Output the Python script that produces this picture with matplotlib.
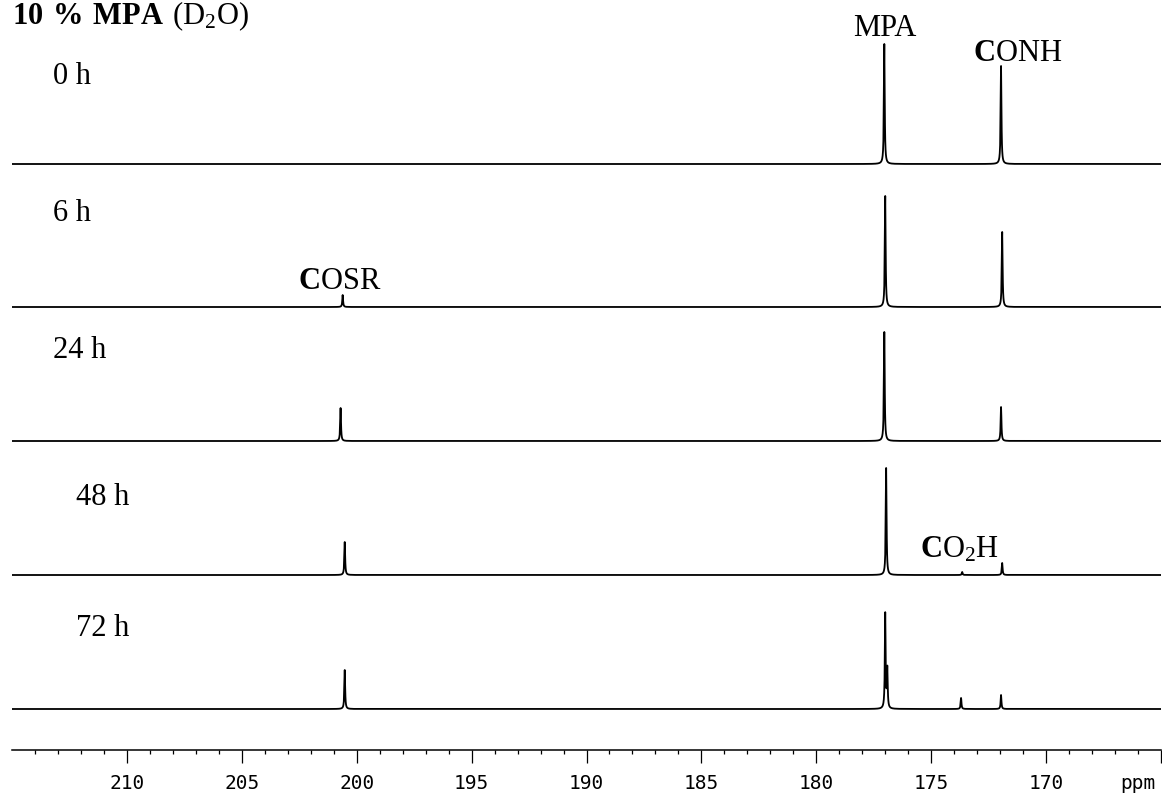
import matplotlib
matplotlib.use("Agg")
import matplotlib.pyplot as plt
import numpy as np

# Stacked 13C NMR spectra, 10 % MPA in D2O (peak positions in ppm, heights in px)
times = ["0 h", "6 h", "24 h", "48 h", "72 h"]

mpa_ppm = [177.04, 177.00, 177.04, 176.96, 177.00]
mpa_height = [120, 111, 109, 107, 95]

mpa2_ppm = [176.91, 176.91, 176.91, 176.91, 176.91]
mpa2_height = [0, 0, 0, 0, 39]

conh_ppm = [171.96, 171.91, 171.96, 171.91, 171.96]
conh_height = [98, 75, 34, 12, 14]

cosr_ppm = [200.61, 200.61, 200.70, 200.52, 200.52]
cosr_height = [0, 12, 33, 33, 39]

co2h_ppm = [173.65, 173.65, 173.65, 173.65, 173.70]
co2h_height = [0, 0, 0, 3, 11]

major_ticks = [165, 170, 175, 180, 185, 190, 195, 200, 205, 210]
tick_labels = ["", "170", "175", "180", "185", "190", "195", "200", "205", "210"]

# layout (pixels above the axis line)
offsets = [586, 443, 309, 175, 41]
label_x = [213.2, 213.2, 213.2, 212.2, 212.2]
label_y = [666, 529, 392, 245, 114]

plt.rcParams["mathtext.fontset"] = "custom"
plt.rcParams["mathtext.rm"] = "Liberation Serif"
plt.rcParams["mathtext.bf"] = "Liberation Serif:bold"
serif = "Liberation Serif"

W, H = 1162, 796
fig = plt.figure(figsize=(W / 100, H / 100), dpi=100)
ax_bottom = 750
ax = fig.add_axes([12 / W, (H - ax_bottom) / H, (1161 - 12) / W, ax_bottom / H])
ax.set_xlim(215, 165)
ax.set_ylim(0, ax_bottom)

ppm = np.arange(165.0, 215.0, 0.001)
hw = 0.02  # peak half width


def lorentz(pos, height):
    return height / (1.0 + ((ppm - pos) / hw) ** 2)


for i in range(len(times)):
    y = np.full_like(ppm, offsets[i], dtype=float)
    y += lorentz(mpa_ppm[i], mpa_height[i])
    y += lorentz(mpa2_ppm[i], mpa2_height[i])
    y += lorentz(conh_ppm[i], conh_height[i])
    y += lorentz(cosr_ppm[i], cosr_height[i])
    y += lorentz(co2h_ppm[i], co2h_height[i])
    ax.plot(ppm, y, color="black", lw=1.3)
    ax.text(label_x[i], label_y[i], times[i], fontsize=22, family=serif,
            ha="left", va="baseline")

# peak labels
ax.text(177.04, 714, "MPA", fontsize=22, family=serif, ha="center", va="baseline")
ax.text(171.26, 689, r"$\mathbf{C}\mathrm{ONH}$", fontsize=22, ha="center", va="baseline")
ax.text(200.74, 461, r"$\mathbf{C}\mathrm{OSR}$", fontsize=22, ha="center", va="baseline")
ax.text(173.78, 193, r"$\mathbf{C}\mathrm{O_2H}$", fontsize=22, ha="center", va="baseline")

fig.text(12 / W, (H - 24) / H, r"$\mathbf{10\ \%\ MPA}\ \mathrm{(D_2O)}$",
         fontsize=22, ha="left", va="baseline")

# axis styling
for s in ["left", "right", "top"]:
    ax.spines[s].set_visible(False)
ax.spines["bottom"].set_linewidth(1.1)
ax.set_yticks([])
ax.set_xticks(major_ticks)
ax.set_xticklabels(tick_labels, fontfamily="DejaVu Sans Mono", fontsize=14)
ax.set_xticks(np.arange(166, 215, 1), minor=True)
ax.tick_params(axis="x", which="major", length=9.4, width=0.9, pad=8, direction="out")
ax.tick_params(axis="x", which="minor", length=3, width=0.9, direction="out")
ax.annotate("ppm", xy=(166.0, 0), xycoords=("data", "axes fraction"),
            xytext=(0, -17.4), textcoords="offset points", ha="center", va="top",
            fontfamily="DejaVu Sans Mono", fontsize=14)

fig.savefig("out.png", dpi=100)
